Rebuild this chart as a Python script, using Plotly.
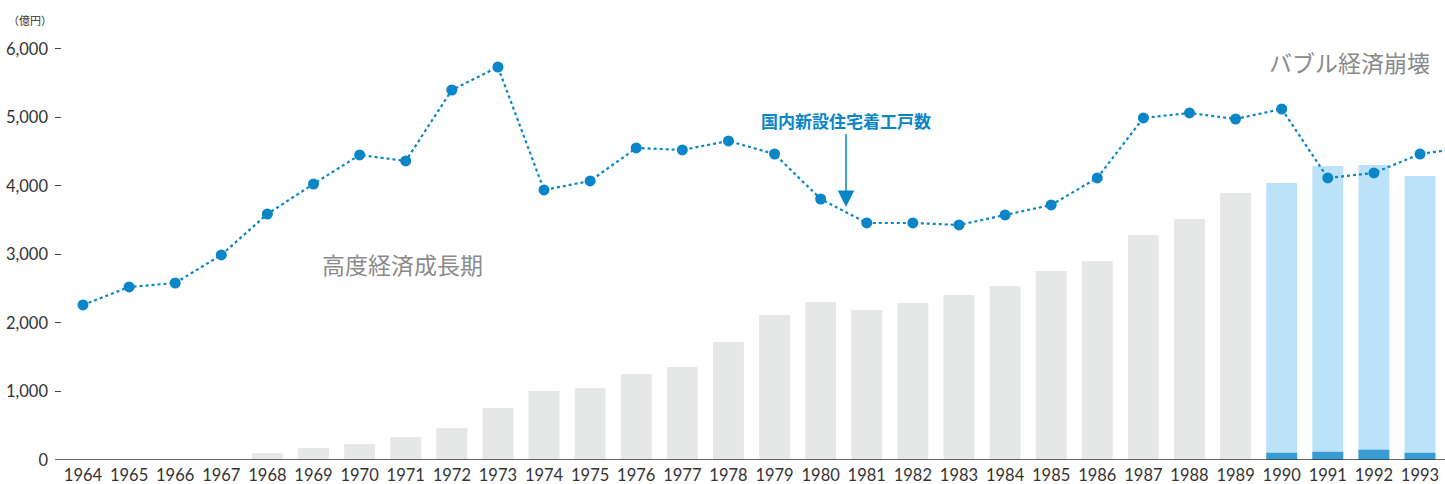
import plotly.graph_objects as go

years = list(range(1964, 1994))
gray_years = list(range(1964, 1990))
gray_vals = [0, 0, 0, 0, 100, 175, 234, 336, 467, 759, 1007, 1051, 1255, 1358,
             1723, 2117, 2307, 2190, 2292, 2409, 2540, 2759, 2905, 3285, 3518, 3898]
blue_years = [1990, 1991, 1992, 1993]
blue_total = [4044, 4292, 4307, 4146]
blue_dark = [105, 120, 150, 105]

line_years = list(range(1964, 1995))
line_vals = [2263, 2526, 2584, 2993, 3591, 4029, 4453, 4365, 5401, 5737, 3942, 4073,
             4555, 4526, 4657, 4467, 3810, 3460, 3460, 3431, 3577, 3723, 4117, 4993,
             5066, 4978, 5124, 4117, 4190, 4467, 4560]

tick_vals = [0, 1000, 2000, 3000, 4000, 5000, 6000]
tick_text = ["0", "1,000", "2,000", "3,000", "4,000", "5,000", "6,000"]

num_font = "Lato, 'Noto Sans', sans-serif"
jp_font = "'Noto Sans CJK JP', sans-serif"

fig = go.Figure()
fig.add_trace(go.Bar(x=gray_years, y=gray_vals, marker_color="#e6e7e7", width=0.67,
                     marker_line_width=0, hoverinfo="skip"))
fig.add_trace(go.Bar(x=blue_years, y=blue_total, marker_color="#bbe2f8", width=0.67,
                     marker_line_width=0, hoverinfo="skip"))
fig.add_trace(go.Bar(x=blue_years, y=blue_dark, marker_color="#3a9cd4", width=0.67,
                     marker_line_width=0, hoverinfo="skip"))
fig.add_trace(go.Scatter(x=line_years, y=line_vals, mode="lines+markers",
                         line=dict(color="#0a86c8", width=2.2, dash="dot"),
                         marker=dict(color="#0a86c8", size=11), cliponaxis=True))

fig.update_layout(
    width=1445, height=484,
    margin=dict(l=55, r=0, t=10, b=24),
    paper_bgcolor="white", plot_bgcolor="white",
    barmode="overlay", showlegend=False,
    font=dict(family=num_font, size=16, color="#333"),
    xaxis=dict(range=[1963.393, 1993.542], tickvals=years, ticktext=[str(y) for y in years],
               showgrid=False, zeroline=False, showline=False, ticks="",
               ticklabelstandoff=3,
               tickfont=dict(size=16.5, color="#333"), automargin=False),
    yaxis=dict(range=[0, 6569], tickvals=tick_vals, ticktext=tick_text,
               showgrid=False, zeroline=False, showline=False,
               ticks="inside", ticklen=6, tickcolor="#444", tickwidth=1.2,
               ticklabelstandoff=6, automargin=False,
               tickfont=dict(size=16.5, color="#333")),
    shapes=[dict(type="line", xref="paper", yref="y", x0=0, x1=1, y0=0, y1=0,
                 line=dict(color="#333", width=1.5))],
    annotations=[
        dict(text="（億円）", xref="paper", yref="paper", x=-0.035, y=1.0,
             xanchor="left", yanchor="bottom", showarrow=False, yshift=-20,
             font=dict(family=jp_font, size=11, color="#333")),
        dict(text="高度経済成長期", xref="x", yref="y", x=1970.92, y=2860,
             showarrow=False, font=dict(family=jp_font, size=23, color="#8a8a8a")),
        dict(text="バブル経済崩壊", xref="paper", yref="y", x=0.9906, y=5810,
             xanchor="right", showarrow=False,
             font=dict(family=jp_font, size=23, color="#8a8a8a")),
        dict(text="<b>国内新設住宅着工戸数</b>", xref="x", yref="y", x=1980.55, y=3693,
             ax=0, ay=-87, showarrow=True, arrowhead=2, arrowsize=2.2, arrowwidth=1.5,
             arrowcolor="#0a86c8", standoff=0,
             font=dict(family=jp_font, size=17, color="#0a86c8")),
    ],
)

fig.write_html("out.html", config={"displayModeBar": False},
               post_script="document.body.style.margin='0';document.body.style.padding='0';")
